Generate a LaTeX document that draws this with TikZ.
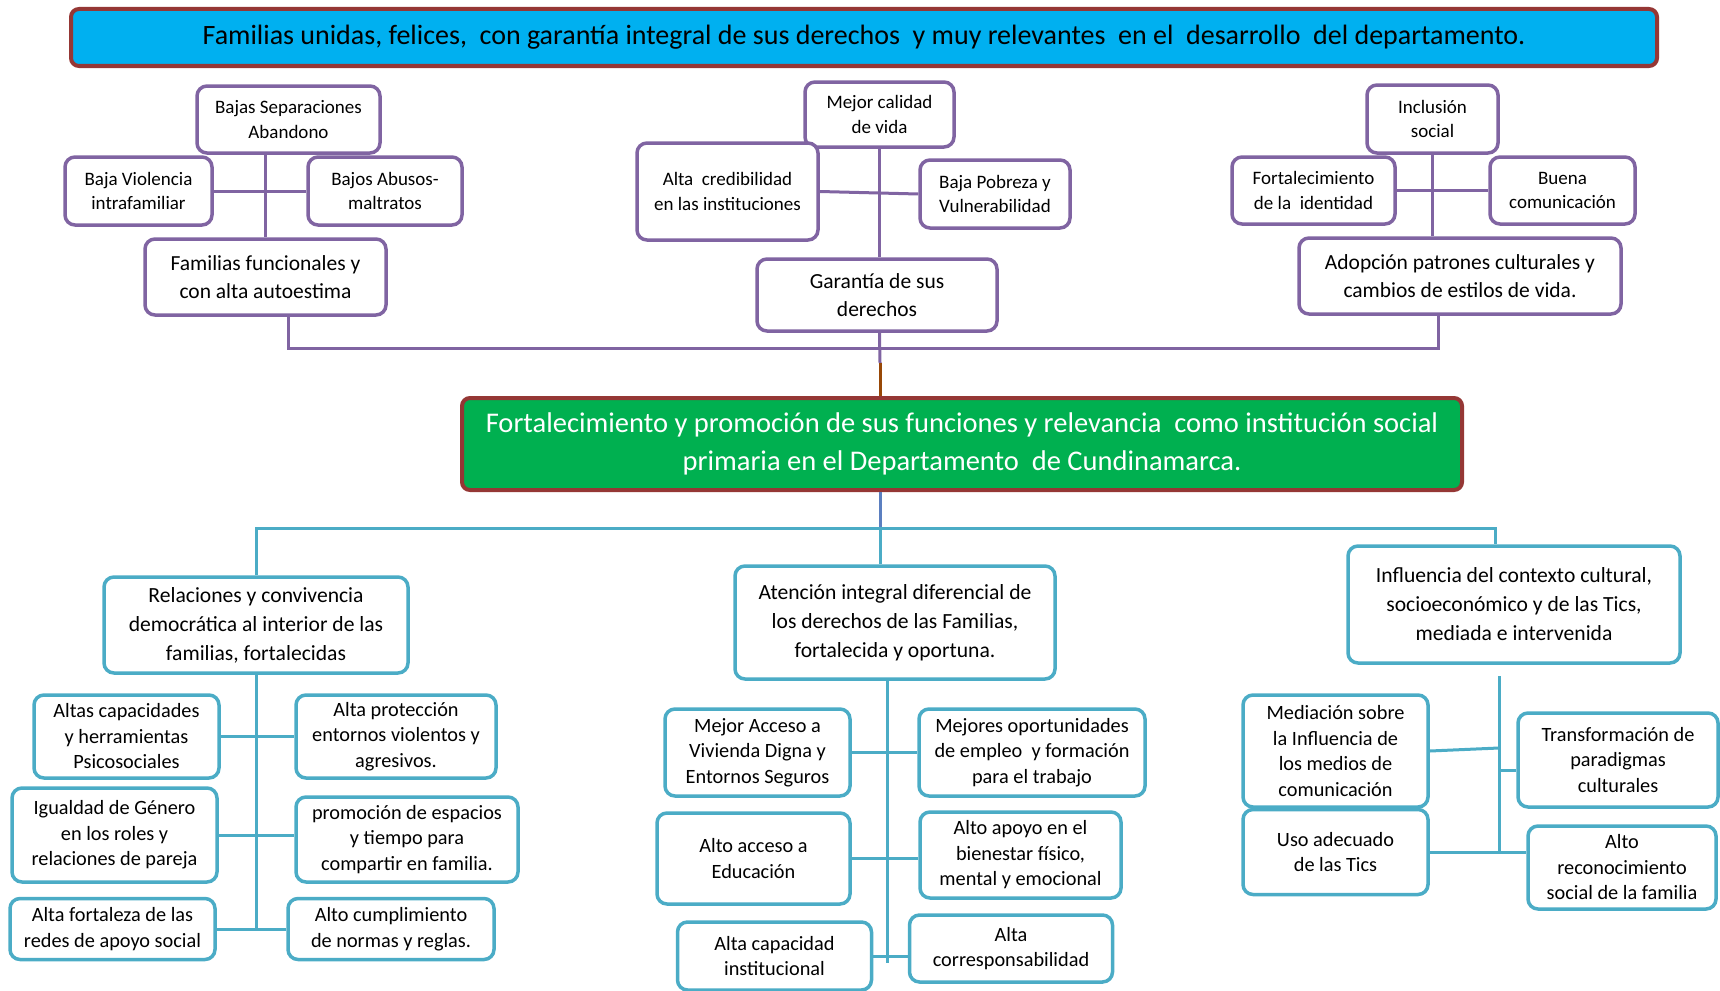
\documentclass[tikz,border=0pt]{standalone}
\usepackage{fontspec}
\setmainfont{Carlito}
\usepackage{tikz}
\usetikzlibrary{positioning}
\definecolor{bannerblue}{HTML}{00B0F0}
\definecolor{goalgreen}{HTML}{00B050}
\definecolor{edgered}{HTML}{953735}
\definecolor{effpurple}{HTML}{8064A2}
\definecolor{causeteal}{HTML}{4BACC6}
\definecolor{linkbrown}{HTML}{984807}
\definecolor{linkblue}{HTML}{5B7FC0}

\begin{document}
\begin{tikzpicture}[x=1pt, y=-1pt,
  banner/.style={draw=edgered, line width=4pt, rounded corners=8pt, inner sep=0pt, align=center},
  effect/.style={draw=effpurple, fill=white, line width=3.5pt, rounded corners=10pt, inner sep=0pt, align=center, font=\fontsize{19}{24.5}\selectfont},
  bigeffect/.style={effect, font=\fontsize{21.5}{28}\selectfont},
  cause/.style={draw=causeteal, fill=white, line width=3.5pt, rounded corners=10pt, inner sep=0pt, align=center, font=\fontsize{20.3}{25.5}\selectfont},
  bigcause/.style={cause, font=\fontsize{21.6}{29}\selectfont},
  eline/.style={draw=effpurple, line width=3pt},
  cline/.style={draw=causeteal, line width=3pt}]

\useasboundingbox (0,0) rectangle (1720,990);

% fin y objetivo
\node[banner, fill=bannerblue, minimum width=1586pt, minimum height=57pt, font=\fontsize{28}{32}\selectfont] (fin) at (864,37.5) {Familias unidas, felices,\ \ con garantía integral de sus derechos\ \ y muy relevantes\ \ en el\ \ desarrollo\ \ del departamento.};
\node[banner, fill=goalgreen, text=white, minimum width=1000pt, minimum height=92pt, font=\fontsize{28.5}{38}\selectfont] (goal) at (962,444) {Fortalecimiento y promoción de sus funciones y relevancia\ \ como institución social\\primaria en el Departamento\ \ de Cundinamarca.};

% efectos
\node[effect, minimum width=183pt, minimum height=67pt] (bs) at (288.5,119.5) {Bajas Separaciones\\Abandono};
\node[effect, minimum width=147pt, minimum height=68pt] (bv) at (138.5,191) {Baja Violencia\\intrafamiliar};
\node[effect, minimum width=154pt, minimum height=68pt] (ba) at (385,191) {Bajos Abusos-\\maltratos};
\node[bigeffect, minimum width=241pt, minimum height=76pt] (ff) at (265.5,277) {Familias funcionales y\\con alta autoestima};

\node[effect, minimum width=149pt, minimum height=65pt] (mc) at (879.5,114.5) {Mejor calidad\\de vida};
\node[effect, minimum width=181pt, minimum height=97pt] (ac) at (727.5,191.5) {Alta\ \ credibilidad\\en las instituciones};
\node[effect, minimum width=150pt, minimum height=68pt] (bp) at (995,194) {Baja Pobreza y\\Vulnerabilidad};
\node[bigeffect, minimum width=240pt, minimum height=72pt] (gd) at (877,295) {Garantía de sus\\derechos};

\node[effect, minimum width=131pt, minimum height=68pt] (is) at (1432.5,119) {Inclusión\\social};
\node[effect, minimum width=163pt, minimum height=67pt] (fi) at (1313.5,190.5) {Fortalecimiento\\de la\ \ identidad};
\node[effect, minimum width=145pt, minimum height=67pt] (bc) at (1562.5,190.5) {Buena\\comunicación};
\node[bigeffect, minimum width=322pt, minimum height=76pt] (ap) at (1460,276) {Adopción patrones culturales y\\cambios de estilos de vida.};

% causas
\node[bigcause, minimum width=304pt, minimum height=96pt] (rc) at (256,625) {Relaciones y convivencia\\democrática al interior de las\\familias, fortalecidas};
\node[cause, minimum width=185pt, minimum height=83pt] (a1) at (126.5,736.5) {Altas capacidades\\y herramientas\\Psicosociales};
\node[cause, minimum width=200pt, minimum height=83pt] (a2) at (396,736.5) {Alta protección\\entornos violentos y\\agresivos.};
\node[cause, minimum width=205pt, minimum height=94pt] (a3) at (114.5,835) {Igualdad de Género\\en los roles y\\relaciones de pareja};
\node[cause, minimum width=222pt, minimum height=85pt] (a4) at (407,839.5) {promoción de espacios\\y tiempo para\\compartir en familia.};
\node[cause, minimum width=205pt, minimum height=61pt] (a5) at (112.5,929) {Alta fortaleza de las\\redes de apoyo social};
\node[cause, minimum width=206pt, minimum height=61pt] (a6) at (391,929) {Alto cumplimiento\\de normas y reglas.};

\node[bigcause, minimum width=320pt, minimum height=113pt] (at) at (895,622.5) {Atención integral diferencial de\\los derechos de las Familias,\\fortalecida y oportuna.};
\node[cause, minimum width=185pt, minimum height=87pt] (b1) at (757.5,752.5) {Mejor Acceso a\\Vivienda Digna y\\Entornos Seguros};
\node[cause, minimum width=226pt, minimum height=87pt] (b2) at (1032,752.5) {Mejores oportunidades\\de empleo\ \ y formación\\para el trabajo};
\node[cause, minimum width=193pt, minimum height=91pt] (b3) at (753.5,858.5) {Alto acceso a\\Educación};
\node[cause, minimum width=201pt, minimum height=86pt] (b4) at (1020.5,855) {Alto apoyo en el\\bienestar físico,\\mental y emocional};
\node[cause, minimum width=194pt, minimum height=68pt] (b5) at (774.5,956) {Alta capacidad\\institucional};
\node[cause, minimum width=203pt, minimum height=67pt] (b6) at (1011,948.5) {Alta\\corresponsabilidad};

\node[bigcause, minimum width=332pt, minimum height=117pt] (inf) at (1514,604.5) {Influencia del contexto cultural,\\socioeconómico y de las Tics,\\mediada e intervenida};
\node[cause, minimum width=185pt, minimum height=112pt] (c1) at (1335.5,751) {Mediación sobre\\la Influencia de\\los medios de\\comunicación};
\node[cause, minimum width=200pt, minimum height=94pt] (c2) at (1618,760) {Transformación de\\paradigmas\\culturales};
\node[cause, minimum width=185pt, minimum height=85pt] (c3) at (1335.5,852) {Uso adecuado\\de las Tics};
\node[cause, minimum width=188pt, minimum height=83pt] (c4) at (1622,867.5) {Alto\\reconocimiento\\social de la familia};

% lineas de efectos
\draw[eline] (ff.north) -- (ff.north |- bs.south);
\draw[eline] (bv) -- (ba);
\draw[eline] (mc.south) -- (mc.south |- gd.north);
\draw[eline] (ac.east) -- (bp.west);
\draw[eline] (is.south) -- (is.south |- ap.north);
\draw[eline] (fi) -- (bc);
\coordinate (hub) at (880,348);
\coordinate (kink) at (880,363);
\draw[eline] ([xshift=23pt]ff.south) |- (hub) -| ([xshift=-22pt]ap.south);
\draw[eline] (mc.south |- gd.south) -- (kink);
\draw[linkbrown, line width=3pt] (kink) -- (kink |- goal.north);

% lineas de causas
\coordinate (split) at (880,528);
\draw[linkblue, line width=3pt] (goal.south -| split) -- (split);
\draw[cline] (rc.north) |- (split) -| ([xshift=-19pt]inf.north);
\draw[cline] (split) -- (split |- at.north);

\draw[cline] (rc.south) -- (rc.south |- a5.east);
\draw[cline] (a1) -- (a2);
\draw[cline] (a3.east) -- (a3.east -| a4.west);
\draw[cline] (a5) -- (a6);

\coordinate (mspine) at (887,963);
\draw[cline] (at.south -| mspine) -- (mspine);
\draw[cline] (b1) -- (b2);
\draw[cline] (b3.east) -- (b3.east -| b4.west);
\draw[cline] (b5.east) -- (b5.east -| b6.west);

\coordinate (rtop) at (1499,676);
\draw[cline] (rtop) -- (rtop |- c3.east);
\draw[cline] (c1.east) -- ([yshift=3pt]c1.east -| rtop);
\draw[cline] ([yshift=-10pt]c2.west) -- ([yshift=-10pt]c2.west -| rtop);
\draw[cline] (c3.east) -- (c3.east -| c4.west);
\end{tikzpicture}
\end{document}
